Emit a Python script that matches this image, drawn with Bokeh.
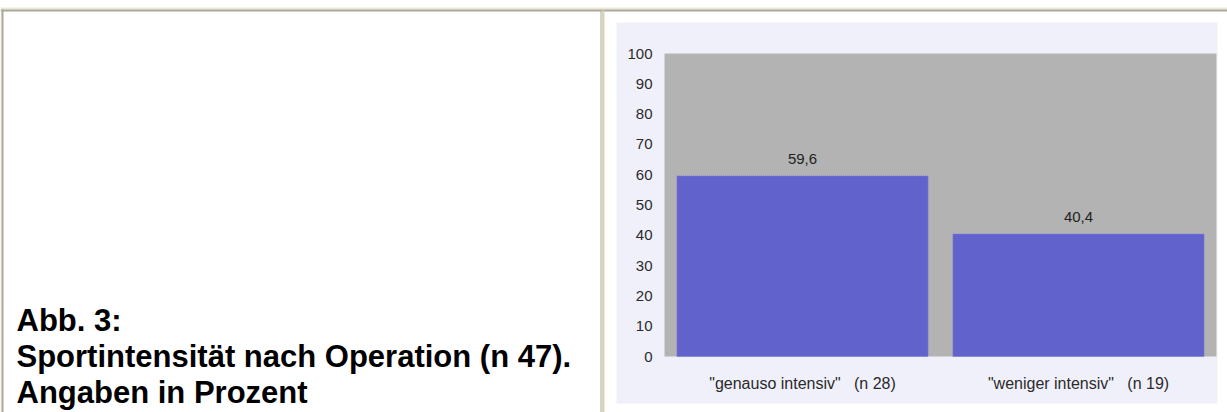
from bokeh.plotting import figure
from bokeh.models import Range1d, ColumnDataSource
from bokeh.core.properties import value
from bokeh.embed import file_html
from bokeh.resources import INLINE

# --- data -------------------------------------------------------------
categories = ['"genauso intensiv"\u00a0\u00a0\u00a0(n 28)',
              '"weniger intensiv"\u00a0\u00a0\u00a0(n 19)']
values = [59.6, 40.4]
y_ticks = [0, 10, 20, 30, 40, 50, 60, 70, 80, 90, 100]
caption = ["Abb. 3:", "Sportintensität nach Operation (n 47).", "Angaben in Prozent"]

# --- page geometry (pixels) -------------------------------------------
W, H = 1227, 412
PLOT_LEFT, PLOT_RIGHT, PLOT_TOP, PLOT_BOTTOM = 664, 1216, 53, 356
Y_MAX = 100

# the canvas is one frame in page pixels (y downward); the chart uses its
# own ranges laid over the plot area: one slot per category, 0..100 percent
slot = (PLOT_RIGHT - PLOT_LEFT) / len(categories)
k = (PLOT_BOTTOM - PLOT_TOP) / Y_MAX
chart_x = Range1d(-PLOT_LEFT / slot - 0.5, (W - PLOT_LEFT) / slot - 0.5)
chart_y = Range1d((PLOT_BOTTOM - H) / k, PLOT_BOTTOM / k)

p = figure(width=W, height=H, x_range=Range1d(0, W), y_range=Range1d(H, 0),
           output_backend="svg", toolbar_location=None,
           x_axis_location=None, y_axis_location=None,
           min_border=0, min_border_left=0, min_border_right=0,
           min_border_top=0, min_border_bottom=0)
p.extra_x_ranges = {"cx": chart_x}
p.extra_y_ranges = {"cy": chart_y}
p.border_fill_color = "white"
p.background_fill_color = "white"
p.outline_line_color = None
p.grid.visible = False

FONT = value("Liberation Sans")


def rect(l, r, t, b, color):
    p.quad(left=[l], right=[r], top=[t], bottom=[b], fill_color=color,
           line_color=None)


# table borders
rect(0, W, 7, 9, "#ECE9D8")
rect(0, W, 9, 11, "#ACA899")
rect(0, 1, 9, H, "#ECE9D8")
rect(1, 3, 9, H, "#ACA899")
rect(600, 601, 10, H, "#ACA899")
rect(601, 604, 10, H, "#D8D2BE")

# chart panel background
rect(616, 1217, 22, 403, "#F0F0FA")

idx = list(range(len(categories)))

# plot area
p.quad(left=[idx[0] - 0.5], right=[idx[-1] + 0.5], bottom=[0], top=[Y_MAX],
       fill_color="#B3B3B3", line_color=None, x_range_name="cx", y_range_name="cy")

# bars
src = ColumnDataSource(dict(x=idx, cat=categories, val=values,
                            txt=[f"{v:.1f}".replace(".", ",") for v in values]))
p.vbar(x="x", top="val", bottom=0, width=0.91, source=src, fill_color="#6262CC",
       line_color="#7C7CDC", line_width=1, line_dash="1 1",
       x_range_name="cx", y_range_name="cy")

# value labels above the bars
p.text(x="x", y="val", text="txt", source=src, text_align="center",
       text_baseline="bottom", y_offset=-12, text_font=FONT,
       text_font_size="15px", text_color="#222222",
       x_range_name="cx", y_range_name="cy")

# y tick labels
p.text(x=[idx[0] - 0.5] * len(y_ticks), y=y_ticks, text=[str(t) for t in y_ticks],
       text_align="right", text_baseline="middle", x_offset=-12, text_font=FONT,
       text_font_size="15px", text_color="#2A2A2A",
       x_range_name="cx", y_range_name="cy")

# category labels
p.text(x="x", y=0, text="cat", source=src, text_align="center",
       text_baseline="top", y_offset=18, text_font=FONT, text_font_size="16px",
       text_color="#2A2A2A", x_range_name="cx", y_range_name="cy")

# caption on the left
p.text(x=[16] * len(caption), y=[320, 356, 392], text=caption,
       text_align="left", text_baseline="alphabetic", text_font=FONT,
       text_font_style="bold", text_font_size="31px", text_color="black")

open("out.html", "w").write(file_html(p, INLINE))
